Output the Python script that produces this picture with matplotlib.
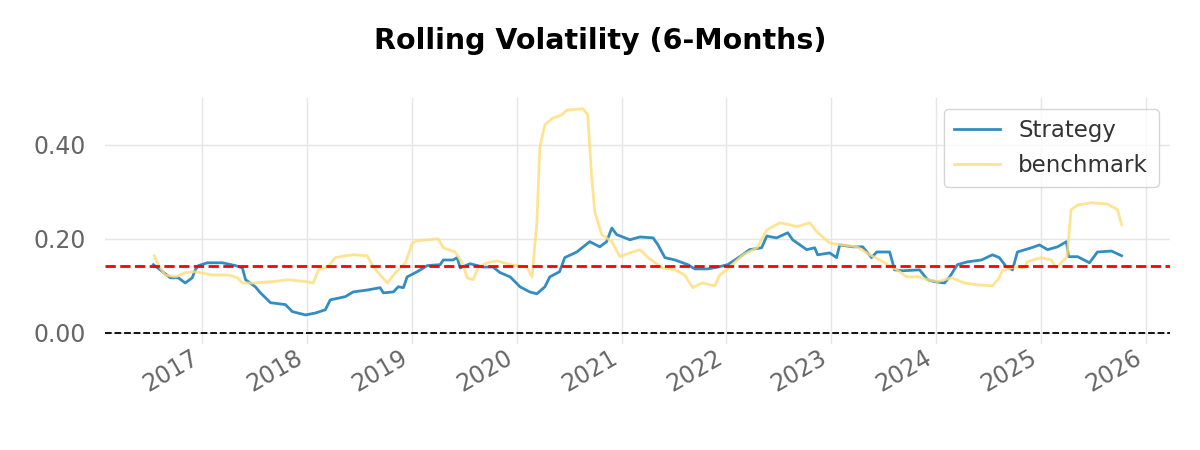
import pandas as pd
import matplotlib
matplotlib.use("Agg")
import matplotlib.pyplot as plt
import matplotlib.dates as mdates
from matplotlib.ticker import FuncFormatter

# rolling 6-month volatility
strategy_dates = [
    "2016-07-15", "2016-08-08", "2016-09-12", "2016-10-10", "2016-11-03", "2016-11-27",
    "2016-12-08", "2016-12-19", "2017-01-19", "2017-03-12", "2017-04-27", "2017-05-21",
    "2017-06-01", "2017-07-05", "2017-07-23", "2017-08-27", "2017-10-18", "2017-11-11",
    "2017-12-27", "2018-01-30", "2018-03-06", "2018-03-23", "2018-05-15", "2018-06-11",
    "2018-07-30", "2018-09-13", "2018-09-24", "2018-10-29", "2018-11-15", "2018-12-03",
    "2018-12-16", "2019-01-20", "2019-02-24", "2019-04-10", "2019-04-21", "2019-05-25",
    "2019-06-08", "2019-06-19", "2019-07-23", "2019-09-07", "2019-10-11", "2019-11-05",
    "2019-12-10", "2020-01-13", "2020-02-16", "2020-03-12", "2020-04-09", "2020-04-26",
    "2020-05-30", "2020-06-17", "2020-07-29", "2020-09-12", "2020-10-17", "2020-11-10",
    "2020-11-28", "2020-12-15", "2021-01-30", "2021-03-06", "2021-04-21", "2021-05-08",
    "2021-06-01", "2021-07-06", "2021-08-20", "2021-09-13", "2021-10-29", "2021-12-03",
    "2022-01-06", "2022-02-17", "2022-03-23", "2022-05-04", "2022-05-22", "2022-06-25",
    "2022-08-03", "2022-08-20", "2022-10-08", "2022-11-05", "2022-11-15", "2022-12-27",
    "2023-01-20", "2023-01-31", "2023-03-17", "2023-04-21", "2023-05-22", "2023-06-09",
    "2023-07-24", "2023-08-10", "2023-09-07", "2023-11-05", "2023-12-03", "2023-12-27",
    "2024-01-31", "2024-02-18", "2024-03-16", "2024-04-20", "2024-06-08", "2024-07-16",
    "2024-08-09", "2024-09-03", "2024-09-24", "2024-10-11", "2024-11-29", "2024-12-27",
    "2025-01-24", "2025-02-28", "2025-03-31", "2025-04-07", "2025-05-09", "2025-06-19",
    "2025-07-17", "2025-09-04", "2025-10-09",
]
strategy_vol = [
    0.145, 0.134, 0.117, 0.117, 0.106, 0.117,
    0.134, 0.143, 0.149, 0.149, 0.143, 0.138,
    0.113, 0.098, 0.085, 0.064, 0.060, 0.045,
    0.038, 0.042, 0.049, 0.070, 0.077, 0.087,
    0.091, 0.096, 0.085, 0.087, 0.098, 0.096,
    0.119, 0.130, 0.143, 0.145, 0.155, 0.155,
    0.160, 0.138, 0.147, 0.140, 0.140, 0.128,
    0.119, 0.098, 0.087, 0.083, 0.098, 0.119,
    0.130, 0.160, 0.172, 0.194, 0.183, 0.194,
    0.223, 0.209, 0.198, 0.204, 0.202, 0.187,
    0.160, 0.155, 0.145, 0.136, 0.136, 0.140,
    0.145, 0.162, 0.177, 0.181, 0.206, 0.202,
    0.213, 0.198, 0.177, 0.181, 0.166, 0.170,
    0.160, 0.187, 0.183, 0.183, 0.160, 0.172,
    0.172, 0.134, 0.132, 0.134, 0.113, 0.109,
    0.106, 0.119, 0.145, 0.151, 0.155, 0.166,
    0.160, 0.140, 0.134, 0.172, 0.181, 0.187,
    0.177, 0.183, 0.194, 0.162, 0.162, 0.149,
    0.172, 0.174, 0.164,
]

bench_dates = [
    "2016-07-18", "2016-08-01", "2016-08-25", "2016-09-30", "2016-11-03", "2016-12-08",
    "2017-02-06", "2017-04-03", "2017-05-04", "2017-05-21", "2017-07-05", "2017-09-03",
    "2017-10-28", "2017-12-27", "2018-01-23", "2018-02-10", "2018-03-13", "2018-04-10",
    "2018-05-15", "2018-06-11", "2018-07-30", "2018-08-20", "2018-10-08", "2018-11-05",
    "2018-12-10", "2019-01-03", "2019-01-20", "2019-04-03", "2019-04-21", "2019-06-01",
    "2019-06-26", "2019-07-13", "2019-08-03", "2019-08-21", "2019-09-21", "2019-10-26",
    "2019-12-10", "2020-02-06", "2020-02-24", "2020-03-12", "2020-03-22", "2020-04-09",
    "2020-05-06", "2020-06-07", "2020-06-24", "2020-08-19", "2020-09-05", "2020-09-19",
    "2020-09-30", "2020-10-24", "2020-11-28", "2020-12-26", "2021-01-30", "2021-03-06",
    "2021-04-03", "2021-05-22", "2021-07-06", "2021-08-09", "2021-09-06", "2021-10-07",
    "2021-11-22", "2021-12-09", "2022-01-06", "2022-02-28", "2022-04-18", "2022-05-22",
    "2022-07-06", "2022-08-10", "2022-09-03", "2022-10-19", "2022-11-12", "2022-12-27",
    "2023-02-11", "2023-04-01", "2023-05-16", "2023-07-01", "2023-08-18", "2023-09-22",
    "2023-11-05", "2023-12-03", "2024-01-07", "2024-02-25", "2024-04-10", "2024-05-25",
    "2024-07-16", "2024-08-09", "2024-08-19", "2024-09-30", "2024-11-04", "2024-11-14",
    "2025-01-02", "2025-02-06", "2025-02-23", "2025-03-16", "2025-04-02", "2025-04-16",
    "2025-05-09", "2025-06-26", "2025-08-21", "2025-09-25", "2025-10-09",
]
bench_vol = [
    0.164, 0.145, 0.123, 0.119, 0.128, 0.130,
    0.123, 0.123, 0.117, 0.106, 0.106, 0.109,
    0.113, 0.109, 0.106, 0.134, 0.140, 0.160,
    0.164, 0.166, 0.164, 0.140, 0.106, 0.128,
    0.149, 0.191, 0.196, 0.200, 0.181, 0.172,
    0.149, 0.117, 0.113, 0.140, 0.149, 0.153,
    0.145, 0.140, 0.119, 0.236, 0.394, 0.443,
    0.457, 0.464, 0.474, 0.477, 0.464, 0.330,
    0.257, 0.209, 0.194, 0.162, 0.170, 0.177,
    0.160, 0.138, 0.134, 0.123, 0.096, 0.106,
    0.100, 0.123, 0.136, 0.166, 0.181, 0.219,
    0.234, 0.230, 0.226, 0.234, 0.215, 0.191,
    0.187, 0.183, 0.166, 0.151, 0.134, 0.119,
    0.119, 0.113, 0.109, 0.117, 0.106, 0.102,
    0.100, 0.117, 0.132, 0.140, 0.138, 0.151,
    0.160, 0.155, 0.138, 0.151, 0.162, 0.262,
    0.272, 0.277, 0.274, 0.262, 0.230,
]

strategy_mean = 0.143

strategy = pd.Series(strategy_vol, index=pd.to_datetime(strategy_dates))
bench = pd.Series(bench_vol, index=pd.to_datetime(bench_dates))

fig, ax = plt.subplots(figsize=(12, 4.5), dpi=100)
fig.subplots_adjust(left=0.0875, right=0.975, bottom=0.2356, top=0.7833)

ax.plot(strategy.index, strategy.values, color="#348dc1", lw=2, label="Strategy")
ax.plot(bench.index, bench.values, color="#fedd78", lw=2, alpha=0.8, label="benchmark")
ax.axhline(strategy_mean, ls="--", lw=2, color="red", zorder=2)
ax.axhline(0, ls="--", lw=1.3, color="black", zorder=2)

fig.suptitle("Rolling Volatility (6-Months)", fontsize=20.5, fontweight="bold", y=0.94)

for s in ax.spines.values():
    s.set_visible(False)
ax.grid(True, color="#e5e5e5", lw=1)
ax.set_axisbelow(True)
ax.set_yticks([0, 0.2, 0.4])
ax.yaxis.set_major_formatter(FuncFormatter(lambda v, _: f"{v:.2f}"))
ax.xaxis.set_major_locator(mdates.YearLocator())
ax.xaxis.set_major_formatter(mdates.DateFormatter("%Y"))
ax.tick_params(axis="both", colors="#666666", labelsize=17, length=0)
ax.tick_params(axis="y", pad=14)
ax.tick_params(axis="x", pad=1)
for lbl in ax.get_xticklabels():
    lbl.set_rotation(30)
    lbl.set_ha("right")

leg = ax.legend(loc="upper right", fontsize=16.5, frameon=True, fancybox=True,
                edgecolor="#cccccc", borderpad=0.45)
for t in leg.get_texts():
    t.set_color("#333333")

fig.savefig("out.png", dpi=100)
